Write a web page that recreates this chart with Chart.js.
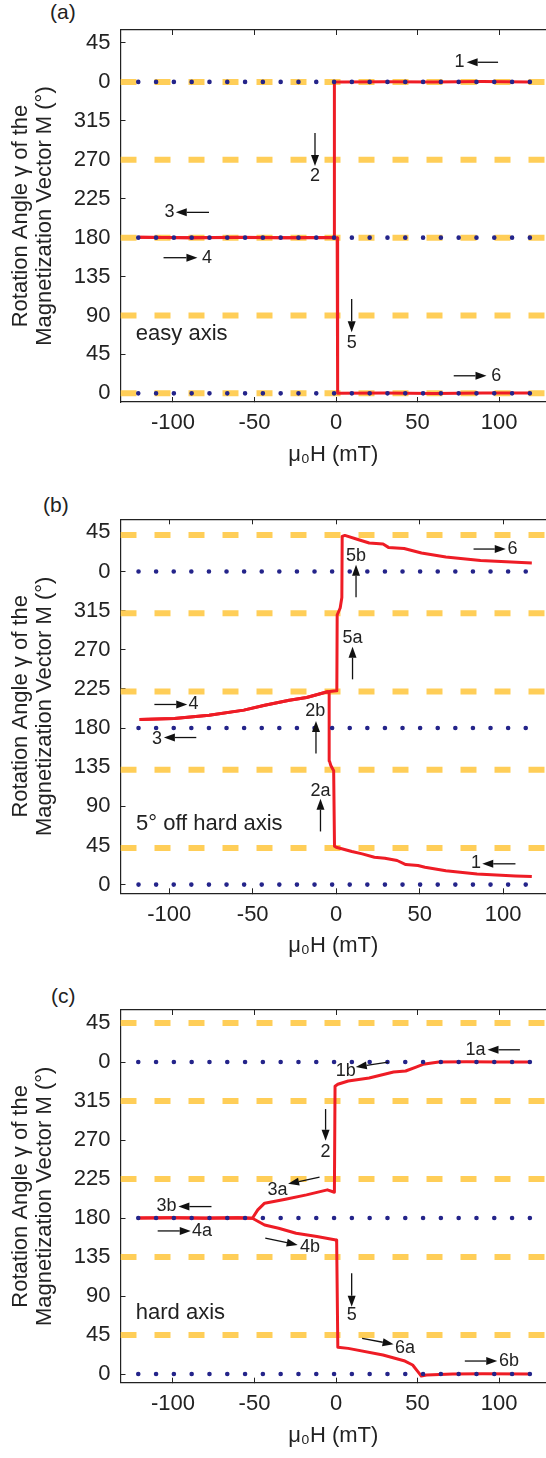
<!DOCTYPE html>
<html>
<head>
<meta charset="utf-8">
<script src="https://cdn.jsdelivr.net/npm/chart.js@4.4.1/dist/chart.umd.min.js"></script>
<style>
  body { margin: 0; background: #fff; width: 546px; height: 1458px; position: relative; overflow: hidden;
         font-family: "Liberation Sans", Arial, sans-serif; }
  .panel { position: absolute; left: 0; width: 546px; height: 486px; }
  .tag { position: absolute; font-size: 21px; line-height: 21px; color: #222; }
</style>
</head>
<body>
<div class="tag" style="left:50px; top:1px">(a)</div>
<div class="tag" style="left:43px; top:494px">(b)</div>
<div class="tag" style="left:51px; top:985px">(c)</div>
<div class="panel" style="top:0"><canvas id="grafA" width="546" height="486"></canvas></div>
<div class="panel" style="top:486px"><canvas id="grafB" width="546" height="486"></canvas></div>
<div class="panel" style="top:972px"><canvas id="grafC" width="546" height="486"></canvas></div>
<script>
// ticks
const fieldTicks = [-100, -50, 0, 50, 100];
const angleTicks = [0, 45, 90, 135, 180, 225, 270, 315, 360, 405];
const angleRange = [-10, 420];

// (a) easy axis
const aFieldRange = [-132.2, 128.8];
const aDotRange = [-121.3, 119];
const aDashLevels = [0, 90, 180, 270, 360];
const aDotLevels = [0, 180, 360];
const aDownField = [119, 90, 60, 30, 5, -1, -1, -30, -60, -90, -121];
const aDownAngle = [360, 360.4, 359.8, 360.3, 360, 360, 180.5, 180, 180.4, 179.8, 180.3];
const aUpField = [-121, -90, -60, -30, 0.7, 1, 30, 60, 90, 119];
const aUpAngle = [180.3, 180, 180.2, 179.8, 180, 0, 0.3, -0.2, 0.4, 0.5];

// (b) 5 deg off hard axis
const bFieldRange = [-129.2, 125.7];
const bDotRange = [-118.4, 116.2];
const bDashLevels = [42, 132, 222, 312, 402];
const bDotLevels = [0, 180, 360];
const bDownField = [117.2, 107.4, 84.4, 65.7, 53.2, 49, 41.7, 36.5, 29.2, 22.9, 15.6, 9.4, 0, -1, -1.5, -3.2, -4, -4.2, -5.2, -17.7, -28.1, -42.8, -55.3, -76.1, -97, -117.8];
const bDownAngle = [9.2, 10, 12.3, 16, 20, 22, 23, 27.7, 30.4, 31.5, 35.3, 38, 43, 44.1, 131, 137, 142, 220, 221.7, 215.2, 212, 206.3, 200.6, 194.8, 191, 189.9];
const bUpField = [-117.8, -97, -76.1, -55.3, -42.8, -28.1, -17.7, -5.2, 0, 0.4, 0.6, 2.4, 3.4, 3.6, 5.2, 13.5, 19.8, 28.1, 31.3, 40.7, 51.1, 65.7, 86.5, 117.2];
const bUpAngle = [189.9, 191, 194.8, 200.6, 206.3, 212, 215.2, 221.7, 222.9, 223, 310, 318, 330, 400.4, 401.5, 396.5, 392.7, 391.5, 387.7, 386.5, 381.2, 376.6, 372.7, 369.7];

// (c) hard axis
const cFieldRange = [-132.2, 128.8];
const cDotRange = [-121.3, 119];
const cDashLevels = [45, 135, 225, 315, 405];
const cDotLevels = [0, 180, 360];
const cDownField = [119, 100, 80, 63, 53.4, 49.1, 42.7, 35.3, 20.3, 7.5, 1.1, -0.6, -1, -5.3, -18.1, -31, -43.8, -48, -51.3, -60, -80, -100, -121.3];
const cDownAngle = [360, 360, 360.3, 360, 357.3, 354.2, 349.6, 348.5, 341.6, 338.1, 334.3, 332, 209.7, 212.5, 206.7, 201.7, 197.1, 189.4, 179.8, 180.3, 180, 180.4, 180];
const cUpField = [-121.3, -100, -80, -60, -51.3, -43.8, -35.2, -24.5, -11.7, 0, 0.4, 1.1, 7.5, 28.8, 41.7, 47, 50.2, 52.3, 55.5, 71.5, 90, 119];
const cUpAngle = [180, 180.3, 179.8, 180.2, 179.8, 172, 168.2, 162.4, 158.6, 154.7, 152, 30.8, 29.6, 21.9, 15.4, 10.4, 2.7, -2.3, -1.2, 0, 0.2, 0];

const fam = '"Liberation Sans", Arial, sans-serif';
const ink = '#222';

// arrows: from (tail), to (tip), label at
const aArrows = [
  { t: '1', from: [99.4, 382.7], to: [80.1, 382.7], at: [75.8, 382.7] },
  { t: '2', from: [-12.9, 300.9], to: [-12.9, 262.8], at: [-12.9, 251.2] },
  { t: '3', from: [-77.9, 209.2], to: [-98.3, 209.2], at: [-102.1, 209.2] },
  { t: '4', from: [-105.8, 156.8], to: [-85.0, 156.8], at: [-79.1, 156.8] },
  { t: '5', from: [9.6, 109], to: [9.6, 70.5], at: [9.6, 58.5] },
  { t: '6', from: [72.2, 20.3], to: [92.3, 20.3], at: [98.3, 20.3] }
];
const bArrows = [
  { t: '5b', from: [11.9, 330.5], to: [11.9, 367.7], at: [11.9, 378.1] },
  { t: '6', from: [82.3, 385.8], to: [101.6, 385.8], at: [105.7, 385.8] },
  { t: '5a', from: [9.8, 236], to: [9.8, 273.5], at: [9.8, 283.2] },
  { t: '4', from: [-108.9, 207.1], to: [-89.2, 207.1], at: [-85.5, 207.1] },
  { t: '2b', from: [-12.1, 150.7], to: [-12.1, 188.2], at: [-12.5, 199.4] },
  { t: '3', from: [-83.8, 169.1], to: [-103.2, 169.1], at: [-107.4, 167.1] },
  { t: '2a', from: [-9.4, 61.1], to: [-9.4, 98.8], at: [-9.4, 107.6] },
  { t: '1', from: [107.4, 23.9], to: [87.5, 23.9], at: [83.8, 25] }
];
const cArrows = [
  { t: '1a', from: [112.8, 374.1], to: [92.9, 374.1], at: [85.5, 374.1] },
  { t: '1b', from: [32, 359.9], to: [12.1, 354.2], at: [6.0, 349.1] },
  { t: '2', from: [-6.4, 305.7], to: [-6.4, 269.1], at: [-6.4, 256] },
  { t: '3a', from: [-10.1, 227.1], to: [-29.4, 219.4], at: [-35.9, 212.5] },
  { t: '3b', from: [-76.4, 193.2], to: [-96.7, 193.2], at: [-104, 194] },
  { t: '4a', from: [-109.4, 165.1], to: [-89.1, 165.1], at: [-82.2, 165.1] },
  { t: '4b', from: [-43.4, 156.7], to: [-23.5, 149], at: [-16, 146.3] },
  { t: '5', from: [9.6, 116.3], to: [9.6, 77.7], at: [9.6, 68.1] },
  { t: '6a', from: [16, 41.2], to: [35.3, 34.3], at: [42.3, 29.7] },
  { t: '6b', from: [79, 15], to: [98.9, 15], at: [106.1, 15] }
];

const arrowPlugin = {
  id: 'arrows',
  afterDatasetsDraw(chart, args, opts) {
    const { ctx } = chart;
    const x = chart.scales.x, y = chart.scales.y;
    ctx.save();
    ctx.strokeStyle = '#111';
    ctx.fillStyle = '#111';
    ctx.lineWidth = 1.3;
    opts.list.forEach(a => {
      const x1 = x.getPixelForValue(a.from[0]), y1 = y.getPixelForValue(a.from[1]);
      const x2 = x.getPixelForValue(a.to[0]), y2 = y.getPixelForValue(a.to[1]);
      const ang = Math.atan2(y2 - y1, x2 - x1);
      const hl = 11, hw = 4;
      const bx = x2 - hl * Math.cos(ang), by = y2 - hl * Math.sin(ang);
      ctx.beginPath(); ctx.moveTo(x1, y1); ctx.lineTo(bx, by); ctx.stroke();
      ctx.beginPath();
      ctx.moveTo(x2, y2);
      ctx.lineTo(bx + hw * Math.sin(ang), by - hw * Math.cos(ang));
      ctx.lineTo(bx - hw * Math.sin(ang), by + hw * Math.cos(ang));
      ctx.closePath(); ctx.fill();
      ctx.font = '18px ' + fam;
      ctx.textAlign = 'center';
      ctx.textBaseline = 'middle';
      ctx.fillStyle = ink;
      ctx.fillText(a.t, x.getPixelForValue(a.at[0]), y.getPixelForValue(a.at[1]));
      ctx.fillStyle = '#111';
    });
    ctx.font = '22px ' + fam;
    ctx.textAlign = 'left';
    ctx.textBaseline = 'middle';
    ctx.fillStyle = ink;
    ctx.fillText(opts.note[0], x.getPixelForValue(opts.note[1]), y.getPixelForValue(opts.note[2]));
    ctx.restore();
  }
};

function pathSet(fields, angles) {
  return {
    data: fields.map((f, i) => ({ x: f, y: angles[i] })),
    showLine: true, pointRadius: 0, borderColor: 'rgb(238,28,37)', borderWidth: 3,
    borderJoinStyle: 'round', tension: 0, order: 1
  };
}
function dashSets(levels, range) {
  return levels.map(v => ({
    data: [{ x: range[0], y: v }, { x: range[1], y: v }],
    showLine: true, pointRadius: 0, borderColor: 'rgb(255,206,88)', borderWidth: 6,
    borderDash: [16, 18], borderCapStyle: 'butt', order: 2
  }));
}
function dotSets(levels, range, gap) {
  return levels.map(v => ({
    data: [{ x: range[0], y: v }, { x: range[1], y: v }],
    showLine: true, pointRadius: 0, borderColor: 'rgb(36,36,138)', borderWidth: 4.6,
    borderDash: [0, gap], borderCapStyle: 'round', order: 0
  }));
}

const tickGrid = { display: true, drawOnChartArea: false, drawTicks: true, tickLength: -5, color: ink, tickColor: ink, tickWidth: 1 };
const axisBorder = { display: true, color: ink, width: 1.2 };

function makePanel(id, p) {
  return new Chart(document.getElementById(id), {
    type: 'scatter',
    data: {
      datasets: [
        ...dotSets(p.dotLevels, p.dotRange, p.dotGap),
        pathSet(p.downField, p.downAngle),
        pathSet(p.upField, p.upAngle),
        ...dashSets(p.dashLevels, p.fieldRange)
      ]
    },
    options: {
      responsive: false,
      animation: false,
      layout: { padding: { top: p.top, left: 0, right: 0, bottom: 0 }, autoPadding: false },
      plugins: { legend: { display: false }, tooltip: { enabled: false },
                 arrows: { list: p.arrows, note: p.note } },
      scales: {
        x: {
          type: 'linear', position: 'bottom', min: p.fieldRange[0], max: p.fieldRange[1],
          afterBuildTicks: s => { s.ticks = fieldTicks.map(v => ({ value: v })); },
          afterFit: s => { s.height = p.xHeight; },
          grid: tickGrid, border: axisBorder,
          ticks: { font: { size: 22, family: fam }, color: ink, padding: 13, maxRotation: 0, autoSkip: false },
          title: { display: true, text: 'μ₀H (mT)', font: { size: 22, family: fam }, color: ink,
                   padding: { top: 0, bottom: p.titlePad } }
        },
        x2: {
          type: 'linear', position: 'top', min: p.fieldRange[0], max: p.fieldRange[1],
          afterBuildTicks: s => { s.ticks = fieldTicks.map(v => ({ value: v })); },
          afterFit: s => { s.height = 0; },
          grid: tickGrid, border: axisBorder,
          ticks: { display: false }
        },
        y: {
          type: 'linear', min: angleRange[0], max: angleRange[1],
          afterBuildTicks: s => { s.ticks = angleTicks.map(v => ({ value: v })); },
          afterFit: s => { s.width = 120.5; },
          grid: tickGrid, border: axisBorder,
          ticks: { font: { size: 22, family: fam }, color: ink, padding: 15, autoSkip: false,
                   callback: v => v % 360 },
          title: { display: true, text: ['Rotation Angle γ of the', 'Magnetization Vector M (°)'],
                   font: { size: 22, family: fam, lineHeight: 1.07 }, color: ink,
                   padding: { top: 9.6, bottom: 0 } }
        }
      }
    },
    plugins: [arrowPlugin]
  });
}

makePanel('grafA', {
  top: 30, xHeight: 84, titlePad: 17.8, fieldRange: aFieldRange, dotRange: aDotRange, dotGap: 17.8,
  dashLevels: aDashLevels, dotLevels: aDotLevels,
  downField: aDownField, downAngle: aDownAngle, upField: aUpField, upAngle: aUpAngle,
  arrows: aArrows, note: ['easy axis', -122.8, 68.6]
});
makePanel('grafB', {
  top: 33.3, xHeight: 78.7, titlePad: 12.5, fieldRange: bFieldRange, dotRange: bDotRange, dotGap: 17.6,
  dashLevels: bDashLevels, dotLevels: bDotLevels,
  downField: bDownField, downAngle: bDownAngle, upField: bUpField, upAngle: bUpAngle,
  arrows: bArrows, note: ['5° off hard axis', -119.9, 70]
});
makePanel('grafC', {
  top: 38, xHeight: 75.3, titlePad: 9.1, fieldRange: cFieldRange, dotRange: cDotRange, dotGap: 17.8,
  dashLevels: cDashLevels, dotLevels: cDotLevels,
  downField: cDownField, downAngle: cDownAngle, upField: cUpField, upAngle: cUpAngle,
  arrows: cArrows, note: ['hard axis', -122.8, 70.1]
});
</script>
</body>
</html>
